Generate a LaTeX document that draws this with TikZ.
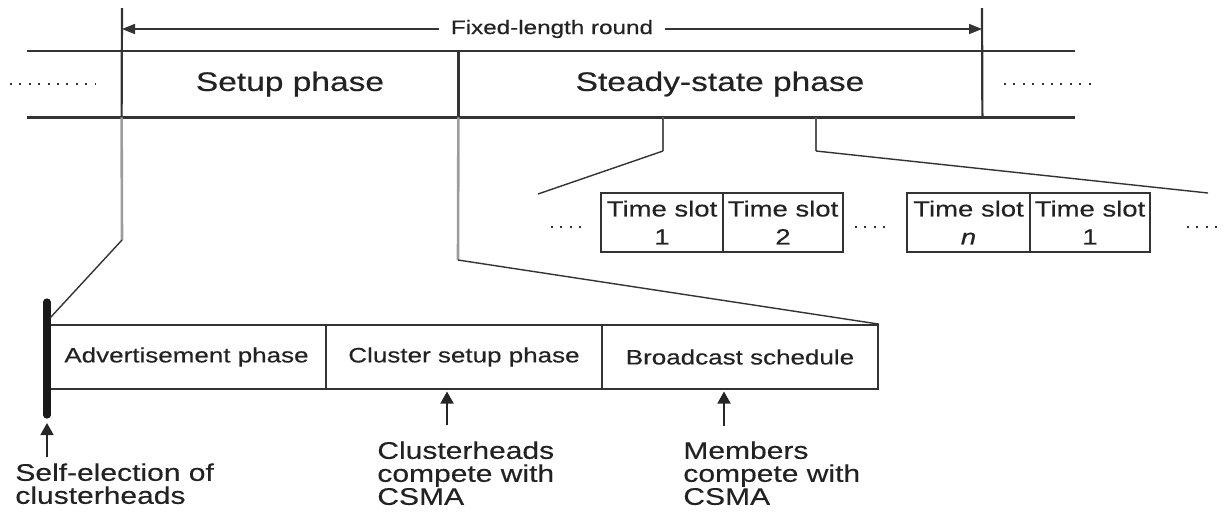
\documentclass[tikz,border=0pt]{standalone}
\usepackage{fontspec}
\setmainfont{Liberation Sans}[FakeStretch=1.25,FakeBold=0.35]
\usetikzlibrary{arrows.meta}
\definecolor{ink}{HTML}{222222}
\definecolor{rulec}{HTML}{333333}
\definecolor{leadc}{HTML}{9C9C9C}
\definecolor{dropc}{HTML}{5A5A5A}
\begin{document}
\begin{tikzpicture}[x=0.5pt,y=-0.5pt,
  band/.style={draw=rulec, line width=1.1pt},
  phasecell/.style={inner sep=0, minimum height=33pt, text=ink, font=\fontsize{13.4}{16}\selectfont},
  cell/.style={draw=rulec, line width=0.9pt, inner sep=0, minimum height=32pt, text=ink, font=\fontsize{10.4}{12}\selectfont},
  slot/.style={draw=rulec, line width=0.9pt, inner sep=0, minimum height=29.5pt, align=center, text=ink, font=\fontsize{11}{14}\selectfont},
  leadline/.style={draw=leadc, line width=1.3pt},
  dropline/.style={draw=dropc, line width=1pt},
  link/.style={draw=rulec, line width=0.7pt},
  dots/.style={draw=rulec, line width=1.3pt, dash pattern=on 1pt off 3.7pt},
  bar/.style={draw=black!90, line width=3.6pt, line cap=round},
  uparrow/.style={draw=black!85, line width=0.9pt, -{Triangle[length=6pt,width=6.5pt]}},
  span/.style={draw=rulec, line width=0.8pt, {Triangle[length=6.5pt,width=5pt]}-{Triangle[length=6.5pt,width=5pt]}},
  note/.style={align=left, inner sep=0, text=ink, font=\fontsize{12}{11.5}\selectfont}]

\useasboundingbox (0,0) rectangle (1231,511);

% ---- round: setup and steady-state phases
\node[phasecell, minimum width=168pt] (setup)  at (290,84) {Setup phase};
\node[phasecell, minimum width=262pt] (steady) at (720,84) {Steady-state phase};
\coordinate (bandL) at (27,51);
\coordinate (bandR) at (1075,51);
\draw[band] (bandL) -- (bandR);
\draw[band] (bandL |- setup.south) -- (bandR |- setup.south);
\coordinate (roundL) at (122,8);
\coordinate (roundR) at (982,8);
\draw[band] (roundL) -- (setup.south west);
\draw[band] (setup.north east) -- (setup.south east);
\draw[band] (roundR) -- (steady.south east);

% fixed-length round dimension
\coordinate (spanL) at (122,29);
\coordinate (spanR) at (982,29);
\draw[span] (spanL) -- (spanR)
  node[midway, fill=white, inner xsep=6pt, inner ysep=1pt, text=ink,
       font=\fontsize{9.7}{12}\selectfont] (round) {Fixed-length round};

% continuation dots of the band
\coordinate (ldA) at (10,84);  \coordinate (ldB) at (96,84);
\coordinate (rdA) at (1004,84); \coordinate (rdB) at (1094,84);
\draw[dots] (ldA) -- (ldB);
\draw[dots] (rdA) -- (rdB);

% ---- steady-state phase: time slots
\node[slot, minimum width=61pt]   (t1)  at (662,222.5)   {Time slot\\1};
\node[slot, minimum width=60pt]   (t2)  at (783,222.5)   {Time slot\\2};
\node[slot, minimum width=61.5pt] (tn)  at (968.5,222.5) {Time slot\\\textit{n}};
\node[slot, minimum width=60pt]   (t1b) at (1090,222.5)  {Time slot\\1};

\coordinate (sdA1) at (551,227);  \coordinate (sdB1) at (586,227);
\coordinate (sdA2) at (855,227);  \coordinate (sdB2) at (890,227);
\coordinate (sdA3) at (1187,227); \coordinate (sdB3) at (1222,227);
\draw[dots] (sdA1) -- (sdB1);
\draw[dots] (sdA2) -- (sdB2);
\draw[dots] (sdA3) -- (sdB3);

% zoom lines from the steady-state phase
\coordinate (s1) at (663,117); \coordinate (s1k) at (663,151); \coordinate (s1e) at (538,194);
\coordinate (s2) at (816,117); \coordinate (s2k) at (816,151); \coordinate (s2e) at (1208,193);
\draw[dropline] (s1) -- (s1k);
\draw[link] (s1k) -- (s1e);
\draw[dropline] (s2) -- (s2k);
\draw[link] (s2k) -- (s2e);

% ---- setup phase: its three parts
\node[cell, minimum width=139.5pt] (adv) at (186.5,357) {Advertisement phase};
\node[cell, minimum width=138pt]   (cs)  at (464,357)   {Cluster setup phase};
\node[cell, minimum width=138pt]   (bs)  at (740,357)   {Broadcast schedule};

% self-election instant
\coordinate (barT) at (47,302);
\coordinate (barB) at (47,415);
\coordinate (barJ) at (50,318);
\draw[bar] (barT) -- (barB);

% zoom lines from the setup phase
\coordinate (k1) at (122,240);
\coordinate (k2) at (458,260);
\draw[leadline] (setup.south west) -- (k1);
\draw[link] (k1) -- (barJ);
\draw[leadline] (setup.south east) -- (k2);
\draw[link] (k2) -- (bs.north east);

% ---- annotations
\node[note, anchor=north west] (self) at (15,463) {Self-election of\\clusterheads};
\node[note, anchor=north west] (chc)  at (377,441) {Clusterheads\\compete with\\CSMA};
\node[note, anchor=north west] (mem)  at (683,441) {Members\\compete with\\CSMA};

\coordinate (a1) at (47,457);
\coordinate (a2) at (447,425);
\coordinate (a3) at (724,426);
\draw[uparrow] (a1) -- ([yshift=-4pt]a1 |- barB);
\draw[uparrow] (a2) -- ([yshift=-0.8pt]a2 |- cs.south);
\draw[uparrow] (a3) -- ([yshift=-0.8pt]a3 |- bs.south);
\end{tikzpicture}
\end{document}
